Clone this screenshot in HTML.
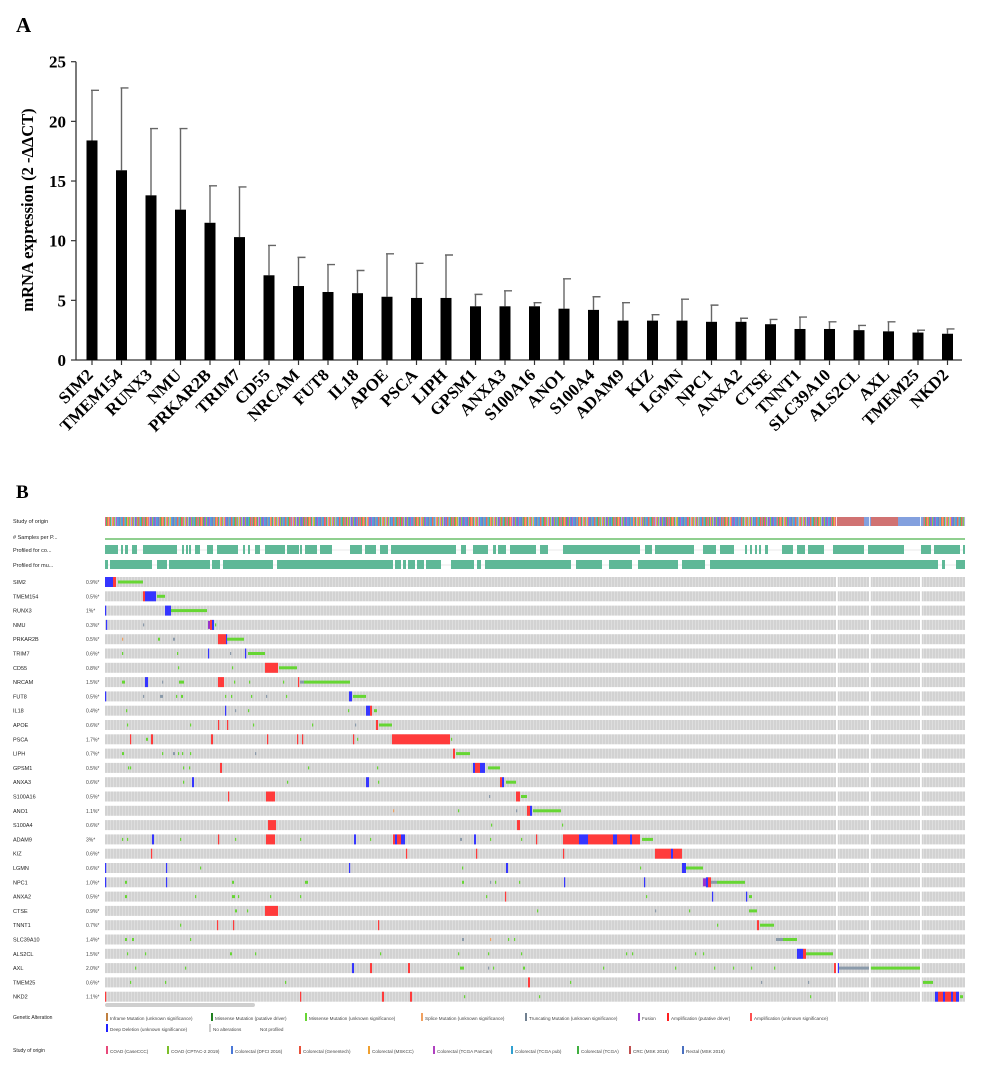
<!DOCTYPE html>
<html><head><meta charset="utf-8">
<style>
body{margin:0;background:#fff;}
svg{display:block;}
.t{font-family:"Liberation Serif",serif;font-weight:bold;}
.s{font-family:"Liberation Sans",sans-serif;}
</style></head>
<body>
<svg id="fig" width="1004" height="1075" viewBox="0 0 1004 1075" xmlns="http://www.w3.org/2000/svg">
<text x="16" y="32" class="t" font-size="21">A</text>
<text x="16" y="498" class="t" font-size="19">B</text>
<g id="barchart"></g>
<g id="onco"></g>
</svg>
<script>
// ---------- Bar chart data ----------
const genes = ["SIM2","TMEM154","RUNX3","NMU","PRKAR2B","TRIM7","CD55","NRCAM","FUT8","IL18","APOE","PSCA","LIPH","GPSM1","ANXA3","S100A16","ANO1","S100A4","ADAM9","KIZ","LGMN","NPC1","ANXA2","CTSE","TNNT1","SLC39A10","ALS2CL","AXL","TMEM25","NKD2"];
const means = [18.4,15.9,13.8,12.6,11.5,10.3,7.1,6.2,5.7,5.6,5.3,5.2,5.2,4.5,4.5,4.5,4.3,4.2,3.3,3.3,3.3,3.2,3.2,3.0,2.6,2.6,2.5,2.4,2.3,2.2];
const errTops = [22.6,22.8,19.4,19.4,14.6,14.5,9.6,8.6,8.0,7.5,8.9,8.1,8.8,5.5,5.8,4.8,6.8,5.3,4.8,3.8,5.1,4.6,3.5,3.4,3.6,3.2,2.9,3.2,2.5,2.6];
const yTicks = [0,5,10,15,20,25];

const NS="http://www.w3.org/2000/svg";
function mk(tag, attrs, parent){const e=document.createElementNS(NS,tag);for(const k in attrs)e.setAttribute(k,attrs[k]);parent.appendChild(e);return e;}
const bc=document.getElementById('barchart');
const X0=76, X1=962, Y0=360, Ytop=61.7;
const yS=v=>Y0-(v/25)*(Y0-Ytop);
const xS=i=>92+i*29.5;

let ax=mk('line',{x1:X0,y1:Ytop,x2:X0,y2:Y0,stroke:'#333','stroke-width':1.3},bc);


let axx=mk('line',{x1:X0,y1:Y0,x2:X1,y2:Y0,stroke:'#333','stroke-width':1.3},bc);


yTicks.forEach(v=>{
  const y=yS(v);
  mk('line',{x1:X0-5,y1:y,x2:X0,y2:y,stroke:'#333','stroke-width':1.2},bc);
  const t=mk('text',{x:X0-10,y:y+6,'text-anchor':'end','font-size':17,class:'t'},bc);
  t.textContent=v;
  
  
});
const yt=mk('text',{x:0,y:0,transform:'translate(33,210) rotate(-90)','text-anchor':'middle','font-size':16.5,class:'t'},bc);
yt.textContent='mRNA expression (2 -ΔΔCT)';


genes.forEach((g,i)=>{
  const cx=xS(i);
  mk('line',{x1:cx,y1:Y0,x2:cx,y2:Y0+5,stroke:'#333','stroke-width':1.2},bc);
  const eb=mk('path',{d:`M${cx} ${yS(means[i])} V${yS(errTops[i])} M${cx-1} ${yS(errTops[i])} H${cx+7}`,stroke:'#666','stroke-width':1.4,fill:'none'},bc);
  
  
  const r=mk('rect',{x:cx-5.5,y:yS(means[i]),width:11,height:Y0-yS(means[i]),fill:'#000'},bc);
  
  
  const t=mk('text',{x:0,y:0,transform:`translate(${cx+2},${Y0+16}) rotate(-45)`,'text-anchor':'end','font-size':17,class:'t'},bc);
  t.textContent=g;
  
  
});

// ---------- Oncoprint data ----------
const pct = ["0.9%*","0.5%*","1%*","0.3%*","0.5%*","0.6%*","0.8%*","1.5%*","0.5%*","0.4%*","0.6%*","1.7%*","0.7%*","0.5%*","0.6%*","0.5%*","1.1%*","0.6%*","3%*","0.6%*","0.6%*","1.0%*","0.5%*","0.9%*","0.7%*","1.4%*","1.5%*","2.0%*","0.6%*","1.1%*"];
const events = [
 [[0,8,'d'],[8,11,'a'],[13,38,'m']],
 [[38,40,'a'],[40,51,'d'],[52,60,'m']],
 [[0,1,'d'],[60,66,'d'],[66,102,'m']],
 [[1,2,'d'],[38,39,'v'],[103,105,'p'],[105,107,'a'],[107,109,'d'],[110,111,'m']],
 [[17,18,'o'],[53,55,'m'],[68,70,'v'],[113,121,'a'],[121,122,'d'],[122,139,'m']],
 [[17,18,'m'],[72,73,'m'],[103,104,'d'],[125,126,'v'],[140,141,'d'],[143,160,'m']],
 [[73,74,'m'],[127,128,'m'],[160,173,'a'],[174,192,'m']],
 [[17,20,'m'],[40,43,'d'],[57,58,'v'],[74,79,'m'],[113,119,'a'],[129,130,'m'],[144,145,'m'],[178,179,'m'],[193,194,'a'],[195,199,'v'],[199,245,'m']],
 [[0,1,'d'],[38,39,'v'],[55,58,'v'],[71,72,'m'],[76,78,'m'],[120,121,'m'],[126,127,'m'],[146,147,'m'],[161,162,'v'],[181,182,'m'],[244,247,'d'],[248,261,'m']],
 [[21,22,'m'],[120,121,'d'],[130,131,'v'],[143,144,'m'],[243,244,'m'],[261,265,'d'],[265,267,'a'],[269,272,'m']],
 [[22,23,'m'],[85,86,'m'],[113,114,'a'],[122,123,'a'],[148,149,'m'],[207,208,'m'],[250,251,'v'],[271,273,'a'],[274,287,'m']],
 [[25,26,'a'],[41,43,'m'],[46,48,'a'],[106,108,'a'],[162,163,'a'],[192,193,'a'],[197,198,'a'],[248,249,'a'],[252,253,'m'],[287,345,'a'],[346,347,'m']],
 [[17,19,'m'],[57,58,'m'],[68,70,'v'],[73,74,'m'],[77,78,'m'],[85,86,'m'],[150,151,'v'],[348,350,'a'],[351,365,'m']],
 [[23,24,'m'],[25,26,'m'],[78,79,'m'],[84,85,'m'],[115,117,'a'],[203,204,'m'],[272,273,'m'],[368,370,'d'],[370,375,'a'],[375,380,'d'],[383,395,'m']],
 [[78,79,'m'],[87,89,'d'],[182,183,'m'],[261,264,'d'],[273,274,'m'],[395,397,'a'],[397,399,'d'],[401,411,'m']],
 [[123,124,'a'],[161,170,'a'],[384,385,'v'],[411,415,'a'],[416,422,'m']],
 [[288,289,'o'],[353,354,'m'],[411,412,'v'],[422,425,'a'],[425,427,'d'],[428,456,'m']],
 [[163,171,'a'],[386,387,'m'],[412,415,'a'],[457,458,'m']],
 [[17,18,'m'],[22,23,'m'],[47,49,'d'],[75,76,'m'],[113,114,'a'],[130,131,'m'],[161,170,'a'],[195,196,'m'],[249,251,'d'],[265,266,'m'],[288,290,'a'],[290,292,'d'],[292,296,'a'],[296,300,'d'],[355,357,'v'],[369,371,'d'],[385,386,'m'],[416,417,'m'],[431,432,'a'],[458,474,'a'],[474,483,'d'],[483,508,'a'],[508,512,'d'],[512,525,'a'],[525,527,'d'],[527,535,'a'],[537,548,'m']],
 [[46,47,'a'],[301,302,'a'],[371,372,'a'],[458,459,'a'],[550,566,'a'],[566,568,'d'],[568,577,'a']],
 [[0,1,'d'],[61,62,'d'],[95,96,'m'],[244,245,'d'],[357,358,'m'],[401,403,'d'],[535,536,'m'],[577,581,'d'],[581,598,'m']],
 [[0,1,'d'],[20,22,'m'],[61,62,'d'],[127,129,'m'],[200,203,'m'],[357,359,'m'],[385,386,'v'],[390,391,'m'],[414,415,'m'],[459,460,'d'],[539,540,'d'],[598,601,'p'],[601,603,'d'],[603,606,'a'],[606,612,'v'],[612,640,'m']],
 [[20,22,'m'],[90,91,'m'],[127,130,'m'],[133,134,'m'],[165,166,'m'],[195,196,'m'],[381,382,'m'],[400,401,'a'],[541,542,'m'],[607,608,'d'],[641,642,'d'],[644,647,'m']],
 [[130,132,'m'],[142,143,'m'],[160,173,'a'],[432,433,'m'],[550,551,'v'],[584,585,'m'],[644,652,'m']],
 [[75,76,'m'],[112,113,'a'],[128,129,'a'],[273,274,'a'],[612,613,'m'],[652,654,'a'],[655,669,'m']],
 [[20,22,'m'],[27,29,'m'],[85,86,'m'],[357,359,'v'],[385,386,'o'],[403,404,'m'],[409,410,'m'],[671,678,'v'],[678,692,'m']],
 [[22,23,'m'],[40,41,'m'],[125,127,'m'],[150,151,'m'],[275,276,'m'],[353,354,'m'],[383,384,'m'],[416,417,'m'],[521,522,'m'],[527,528,'m'],[590,591,'m'],[598,599,'m'],[692,698,'d'],[698,701,'a'],[701,728,'m']],
 [[30,31,'m'],[80,81,'m'],[247,249,'d'],[265,267,'a'],[303,305,'a'],[355,359,'m'],[383,384,'v'],[388,389,'m'],[418,420,'m'],[498,499,'m'],[570,571,'m'],[609,610,'m'],[628,629,'m'],[646,647,'m'],[669,670,'m'],[729,732,'a'],[732,734,'d'],[734,765,'v'],[765,816,'m']],
 [[25,26,'m'],[60,61,'m'],[180,181,'m'],[423,425,'a'],[465,466,'m'],[656,657,'v'],[703,704,'v'],[818,828,'m']],
 [[0,1,'a'],[195,196,'a'],[277,279,'a'],[305,307,'a'],[359,360,'m'],[434,435,'m'],[705,706,'m'],[830,833,'d'],[833,838,'a'],[838,840,'d'],[840,846,'a'],[846,848,'d'],[848,851,'a'],[851,854,'d'],[855,858,'m']]
];
const coBlocks = [[0,13],[16,18],[20,23],[27,32],[38,72],[77,79],[81,83],[84,86],[90,95],[102,108],[112,133],[138,140],[143,145],[150,155],[160,180],[182,194],[195,197],[200,212],[215,227],[245,257],[260,271],[275,283],[288,295],[286,351],[356,361],[368,383],[388,391],[393,401],[405,431],[435,443],[458,535],[540,547],[550,589],[598,611],[615,629],[640,642],[645,647],[650,652],[654,656],[660,663],[677,688],[692,700],[703,719],[728,759],[763,799],[816,826],[829,855],[858,860]];
const muBlocks = [[0,3],[5,47],[52,62],[64,105],[107,115],[118,168],[172,288],[290,296],[298,301],[303,310],[312,319],[321,336],[346,369],[372,376],[380,466],[471,497],[504,527],[533,573],[577,600],[605,833],[837,840],[851,860]];
const nSamples = 860;
const studyPalette = ['#e8497a','#7cbf2a','#4a78d8','#e8513a','#f0a030','#b040c0','#30a0d0','#40b040','#9aa0e0','#4a70c0','#8a8a8a'];
const studyRegions = [[731,759,'#c85a5a'],[759,766,'#6f8fd8'],[766,793,'#c85a5a'],[793,818,'#6f8fd8']];

// ---------- Oncoprint drawing ----------
const on=document.getElementById('onco');
const TX=105, TW=860;
const sx=i=>TX+i*(TW/nSamples);
const defs=mk('defs',{},on);
const pat=mk('pattern',{id:'smp',width:3,height:10,patternUnits:'userSpaceOnUse'},defs);
mk('rect',{x:0,y:0,width:3,height:10,fill:'#d2d2d2'},pat);
mk('rect',{x:2.3,y:0,width:0.7,height:10,fill:'#e4e4e4'},pat);

function lab(txt,x,y,size,name,anchor){const t=mk('text',{x:x,y:y,'font-size':size,class:'s',fill:'#222','text-anchor':anchor||'start'},on);t.textContent=txt;return t;}

lab('Study of origin',13,523,5.5,'track-label-study');
const sg=mk('g',{},on);


for(let i=0;i<nSamples;i++){
  let c=studyPalette[(i*7+Math.floor(i/3)*5+Math.floor(i/11))%studyPalette.length];
  studyRegions.forEach(r=>{if(i>=r[0]&&i<r[1])c=r[2];});
  mk('rect',{x:sx(i),y:517,width:1.05,height:9,fill:c,opacity:0.85},sg);
}
lab('# Samples per P...',13,539,5.5,'track-label-samples');
const spl=mk('rect',{x:TX,y:538,width:TW,height:2,fill:'#8fcf8f'},on);


lab('Profiled for co...',13,552,5.5,'track-label-profiled-cna');
lab('Profiled for mu...',13,567,5.5,'track-label-profiled-mut');
mk('rect',{x:TX,y:549.5,width:TW,height:1,fill:'#e8e8e8'},on);
mk('rect',{x:TX,y:564.5,width:TW,height:1,fill:'#e8e8e8'},on);
coBlocks.forEach(b=>{const r=mk('rect',{x:sx(b[0]),y:545,width:sx(b[1])-sx(b[0]),height:9,fill:'#5fb897'},on);
  
  });
muBlocks.forEach(b=>{const r=mk('rect',{x:sx(b[0]),y:560,width:sx(b[1])-sx(b[0]),height:9,fill:'#5fb897'},on);
  
  });

const colors={a:'#ff3b3b',d:'#3535ff',m:'#66d633',v:'#8a9aaa',p:'#9932cc',o:'#f0a060'};
genes.forEach((g,i)=>{
  const y=577+i*14.3;
  const row=mk('g',{},on);
  
  
  const t=mk('text',{x:13,y:y+7,'font-size':5.5,class:'s',fill:'#222'},row);t.textContent=g;
  const p=mk('text',{x:86,y:y+7,'font-size':5,class:'s',fill:'#444'},row);p.textContent=pct[i];
  mk('rect',{x:TX,y:y,width:TW,height:10,fill:'url(#smp)'},row);
  events[i].forEach(e=>{
    const x=sx(e[0]),w=Math.max(1.2,sx(e[1])-sx(e[0]));
    if(e[2]==='a'||e[2]==='d'){mk('rect',{x:x,y:y,width:w,height:10,fill:colors[e[2]]},row);}
    else if(e[2]==='p'){mk('rect',{x:x,y:y+1,width:w,height:8,fill:colors.p},row);}
    else {mk('rect',{x:x,y:y+3.5,width:w,height:3,fill:colors[e[2]]},row);}
  });
});
[731,764,815].forEach(s=>{mk('rect',{x:sx(s),y:577,width:1.8,height:30*14.3,fill:'#fff'},on);mk('rect',{x:sx(s),y:517,width:0.8,height:9,fill:'#fff'},on);});

const gb=mk('rect',{x:105,y:1003,width:150,height:4,fill:'#cfcfcf',rx:2},on);


lab('Genetic Alteration',13,1019,5,'legend-title-alteration');
const legItems=[[106,1019,'#c08040','Inframe Mutation (unknown significance)'],[211,1019,'#208020','Missense Mutation (putative driver)'],[305,1019,'#66d633','Missense Mutation (unknown significance)'],[421,1019,'#f0a060','Splice Mutation (unknown significance)'],[525,1019,'#708090','Truncating Mutation (unknown significance)'],[638,1019,'#9932cc','Fusion'],[667,1019,'#ff2020','Amplification (putative driver)'],[750,1019,'#ff5050','Amplification (unknown significance)'],[106,1030,'#2020ff','Deep Deletion (unknown significance)'],[209,1030,'#cccccc','No alterations'],[256,1030,'#ffffff','Not profiled']];
legItems.forEach(l=>{
  const gg=mk('g',{},on);
  
  
  mk('rect',{x:l[0],y:l[1]-6,width:2,height:8,fill:l[2]},gg);
  const t=mk('text',{x:l[0]+4,y:l[1]+1,'font-size':4.6,class:'s',fill:'#444'},gg);t.textContent=l[3];
});
lab('Study of origin',13,1052,5,'legend-title-study');
const studyLeg=[[106,'#e8497a','COAD (CaseCCC)'],[167,'#7cbf2a','COAD (CPTAC-2 2019)'],[231,'#4a78d8','Colorectal (DFCI 2016)'],[299,'#e8513a','Colorectal (Genentech)'],[368,'#f0a030','Colorectal (MSKCC)'],[433,'#b040c0','Colorectal (TCGA PanCan)'],[511,'#30a0d0','Colorectal (TCGA pub)'],[577,'#40b040','Colorectal (TCGA)'],[629,'#c05050','CRC (MSK 2018)'],[682,'#4a70c0','Rectal (MSK 2018)']];
studyLeg.forEach(l=>{
  const gg=mk('g',{},on);
  
  
  mk('rect',{x:l[0],y:1046,width:2,height:8,fill:l[1]},gg);
  const t=mk('text',{x:l[0]+4,y:1053,'font-size':4.6,class:'s',fill:'#444'},gg);t.textContent=l[2];
});
</script>
</body></html>
